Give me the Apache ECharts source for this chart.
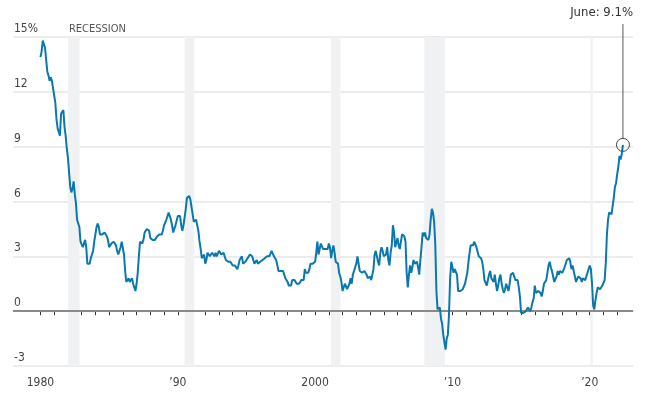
<!DOCTYPE html>
<html>
<head>
<meta charset="utf-8">
<script src="https://cdn.jsdelivr.net/npm/echarts@6/dist/echarts.min.js"></script>
<style>
  html, body { margin: 0; padding: 0; background: #fff; }
  #chart { width: 653px; height: 399px; }
</style>
</head>
<body>
<div id="chart"></div>
<script>
// 数据：CPI 同比（%），月度，1980年1月起
let startYear = 1980
let cpi1980s = [
  13.9, 14.2, 14.8, 14.7, 14.4, 14.4, 13.1, 12.9, 12.6, 12.8, 12.6, 12.5,
  11.8, 11.4, 10.5, 10.0, 9.8, 9.6, 10.8, 10.8, 11.0, 10.1, 9.6, 8.9,
  8.4, 7.6, 6.8, 6.5, 6.7, 7.1, 6.4, 5.9, 5.0, 5.1, 4.6, 3.8,
  3.7, 3.5, 3.6, 3.9, 3.5, 2.6, 2.5, 2.6, 2.9, 2.9, 3.3, 3.8,
  4.2, 4.6, 4.8, 4.6, 4.2, 4.2, 4.2, 4.3, 4.3, 4.3, 4.1, 3.9,
  3.5, 3.5, 3.7, 3.7, 3.8, 3.8, 3.6, 3.3, 3.1, 3.2, 3.5, 3.8,
  3.9, 3.1, 2.2, 1.6, 1.5, 1.8, 1.6, 1.6, 1.8, 1.5, 1.3, 1.1,
  1.5, 2.1, 3.0, 3.8, 3.9, 3.7, 3.9, 4.3, 4.4, 4.5, 4.5, 4.4,
  4.0, 3.9, 3.9, 3.9, 3.9, 4.0, 4.1, 4.0, 4.2, 4.2, 4.2, 4.4,
  4.7, 4.8, 5.0, 5.1, 5.4, 5.2, 5.0, 4.7, 4.3, 4.5, 4.7, 4.6
]
let cpi1990s = [
  5.2, 5.3, 5.2, 4.7, 4.4, 4.7, 4.8, 5.6, 6.2, 6.3, 6.3, 6.1,
  5.7, 5.3, 4.9, 4.9, 5.0, 4.7, 4.4, 3.8, 3.4, 2.9, 3.0, 3.1,
  2.6, 2.8, 3.2, 3.2, 3.0, 3.1, 3.2, 3.1, 3.0, 3.2, 3.0, 2.9,
  3.3, 3.2, 3.1, 3.2, 3.2, 3.0, 2.8, 2.8, 2.7, 2.8, 2.7, 2.7,
  2.5, 2.5, 2.5, 2.4, 2.3, 2.5, 2.8, 2.9, 3.0, 2.6, 2.7, 2.7,
  2.8, 2.9, 2.9, 3.1, 3.2, 3.0, 2.8, 2.6, 2.5, 2.8, 2.6, 2.5,
  2.7, 2.7, 2.8, 2.9, 2.9, 2.8, 3.0, 2.9, 3.0, 3.0, 3.3, 3.3,
  3.0, 3.0, 2.8, 2.5, 2.2, 2.3, 2.2, 2.2, 2.2, 2.1, 1.8, 1.7,
  1.6, 1.4, 1.4, 1.4, 1.7, 1.7, 1.7, 1.6, 1.5, 1.5, 1.5, 1.6,
  1.7, 1.6, 1.7, 2.3, 2.1, 2.0, 2.1, 2.3, 2.6, 2.6, 2.6, 2.7
]
let cpi2000s = [
  2.7, 3.2, 3.8, 3.1, 3.2, 3.7, 3.7, 3.4, 3.5, 3.4, 3.4, 3.4,
  3.7, 3.5, 2.9, 3.3, 3.6, 3.2, 2.7, 2.7, 2.6, 2.1, 1.9, 1.6,
  1.1, 1.1, 1.5, 1.6, 1.2, 1.1, 1.5, 1.8, 1.5, 2.0, 2.2, 2.4,
  2.6, 3.0, 3.0, 2.2, 2.1, 2.1, 2.1, 2.2, 2.3, 2.0, 1.8, 1.9,
  1.9, 1.7, 1.7, 2.3, 3.1, 3.3, 3.0, 2.7, 2.5, 3.2, 3.5, 3.3,
  3.0, 3.0, 3.1, 3.5, 2.8, 2.5, 3.2, 3.6, 4.7, 4.3, 3.5, 3.4,
  4.0, 3.6, 3.4, 3.5, 4.2, 4.3, 4.1, 3.8, 2.1, 1.3, 2.0, 2.5,
  2.1, 2.4, 2.8, 2.6, 2.7, 2.7, 2.4, 2.0, 2.8, 3.5, 4.3, 4.1,
  4.3, 4.0, 4.0, 3.9, 4.2, 5.0, 5.6, 5.4, 4.9, 3.7, 1.1, 0.1,
  0.0, 0.2, -0.4, -0.7, -1.3, -1.4, -2.1, -1.5, -1.3, -0.2, 1.8, 2.7
]
let cpi2010s = [
  2.6, 2.1, 2.3, 2.2, 2.0, 1.1, 1.2, 1.1, 1.1, 1.2, 1.1, 1.5,
  1.6, 2.1, 2.7, 3.2, 3.6, 3.6, 3.6, 3.8, 3.9, 3.5, 3.4, 3.0,
  2.9, 2.9, 2.7, 2.3, 1.7, 1.7, 1.4, 1.7, 2.0, 2.2, 1.8, 1.7,
  1.6, 2.0, 1.5, 1.1, 1.4, 1.8, 2.0, 1.5, 1.2, 1.0, 1.2, 1.5,
  1.6, 1.1, 1.5, 2.0, 2.1, 2.1, 2.0, 1.7, 1.7, 1.7, 1.3, 0.8,
  -0.1, 0.0, -0.1, -0.2, 0.0, 0.1, 0.2, 0.2, 0.0, 0.2, 0.5, 0.7,
  1.4, 1.0, 0.9, 1.1, 1.0, 1.0, 0.8, 1.1, 1.5, 1.6, 1.7, 2.1,
  2.5, 2.7, 2.4, 2.2, 1.9, 1.6, 1.7, 1.9, 2.2, 2.0, 2.2, 2.1,
  2.1, 2.2, 2.4, 2.5, 2.8, 2.9, 2.9, 2.7, 2.3, 2.5, 2.2, 1.9,
  1.6, 1.5, 1.9, 2.0, 1.8, 1.6, 1.8, 1.7, 1.7, 1.8, 2.1, 2.3
]
let cpi2020s = [
  2.5, 2.3, 1.5, 0.3, 0.1, 0.6, 1.0, 1.3, 1.4, 1.2, 1.2, 1.4,
  1.4, 1.7, 2.6, 4.2, 5.0, 5.4, 5.4, 5.3, 5.4, 6.2, 6.8, 7.0,
  7.5, 7.9, 8.5, 8.3, 8.6, 9.1
]

// 衰退期（年份，小数）
let recessions = [
  [1982.0, 1982.85],
  [1990.5, 1991.2],
  [2001.15, 2001.85],
  [2007.95, 2009.45],
  [2020.05, 2020.22]
]

// 刻度
let yTicks = [-3, 0, 3, 6, 9, 12, 15]
let xTickYears = []
for (let y = 1980; y <= 2022; y++) xTickYears.push(y)
let xLabelYears = [1980, 1990, 2000, 2010, 2020]
let xLabelText = { 1980: '1980', 1990: '\u201990', 2000: '2000', 2010: '\u201910', 2020: '\u201920' }

let lastLabel = 'June: 9.1%'

let allValues = [].concat(cpi1980s, cpi1990s, cpi2000s, cpi2010s, cpi2020s)
let seriesData = allValues.map((v, i) => [startYear + i / 12, v])
let lastPoint = seriesData[seriesData.length - 1]

let fontFamily = '"Liberation Sans Narrow", "DejaVu Sans Condensed", "Open Sans", sans-serif'

let chart = echarts.init(document.getElementById('chart'))

let option = {
  animation: false,
  grid: {
    left: 13,
    right: 20,
    top: 37,
    bottom: 33
  },
  xAxis: {
    type: 'value',
    min: 1978,
    max: 2023.15,
    axisLine: {
      show: true,
      lineStyle: { color: '#ebebeb', width: 2 }
    },
    axisTick: {
      show: true,
      customValues: xTickYears,
      length: 4,
      lineStyle: { color: '#333', width: 1 }
    },
    axisLabel: {
      customValues: xLabelYears,
      formatter: v => xLabelText[Math.round(v)] || '',
      color: '#444',
      fontSize: 12,
      fontFamily: fontFamily,
      margin: 11
    },
    splitLine: { show: false }
  },
  yAxis: {
    type: 'value',
    min: -3,
    max: 15,
    interval: 3,
    axisLine: { show: false },
    axisTick: { show: false },
    axisLabel: {
      inside: true,
      margin: 1,
      verticalAlign: 'bottom',
      padding: [0, 0, 2, 0],
      color: '#444',
      fontSize: 12,
      fontFamily: fontFamily,
      formatter: v => (v === 15 ? '15%' : String(v))
    },
    splitLine: {
      show: true,
      lineStyle: { color: '#ececec', width: 2 }
    }
  },
  series: [
    {
      type: 'line',
      data: seriesData,
      showSymbol: false,
      symbol: 'none',
      lineStyle: { color: '#0a78ae', width: 2 },
      z: 5,
      markArea: {
        silent: true,
        itemStyle: { color: '#f0f1f3' },
        data: recessions.map(r => [{ xAxis: r[0] }, { xAxis: r[1] }])
      },
      markLine: {
        silent: true,
        symbol: 'none',
        label: { show: false },
        lineStyle: { color: '#8a8a8a', width: 2, type: 'solid' },
        data: [{ yAxis: 0 }]
      }
    }
  ]
}

chart.setOption(option)

// 注释：最后一个点
let p = chart.convertToPixel({ gridIndex: 0 }, lastPoint)
let bandStart = chart.convertToPixel({ gridIndex: 0 }, [recessions[0][0], 15])
chart.setOption({
  graphic: [
    {
      type: 'circle',
      shape: { cx: p[0], cy: p[1], r: 6.5 },
      style: { fill: 'rgba(255,255,255,0)', stroke: '#444', lineWidth: 1 },
      z: 100
    },
    {
      type: 'line',
      shape: { x1: p[0], y1: p[1] - 6.5, x2: p[0], y2: 24 },
      style: { stroke: '#555', lineWidth: 1 },
      z: 100
    },
    {
      type: 'text',
      x: 633,
      y: 13,
      style: {
        text: lastLabel,
        align: 'right',
        verticalAlign: 'middle',
        fill: '#333',
        fontSize: 13,
        fontFamily: fontFamily
      },
      z: 100
    },
    {
      type: 'text',
      x: bandStart[0] + 1,
      y: bandStart[1] - 8,
      style: {
        text: 'RECESSION',
        align: 'left',
        verticalAlign: 'middle',
        fill: '#555',
        fontSize: 11,
        fontFamily: fontFamily
      },
      z: 100
    }
  ]
})
</script>
</body>
</html>
